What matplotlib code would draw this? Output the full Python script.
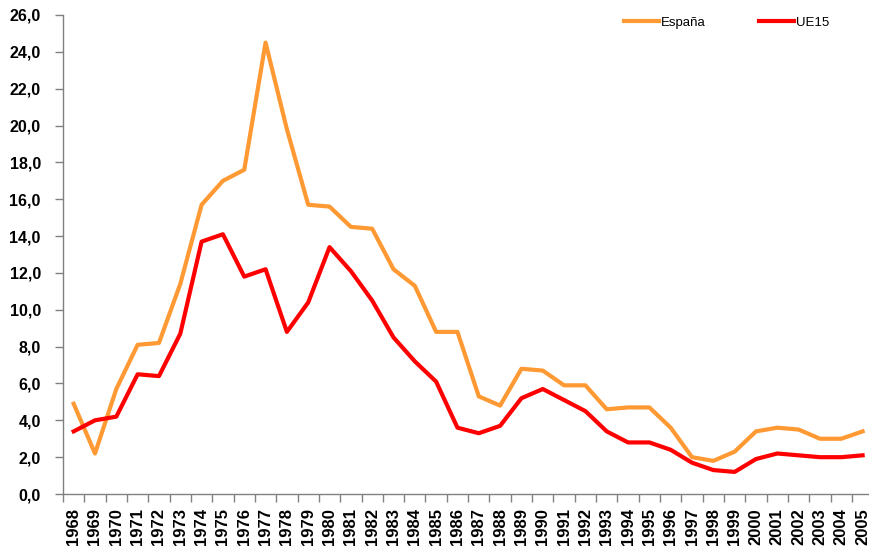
"""
Inflation series: España vs UE15, 1968-2005
"""

import matplotlib.pyplot as plt
import numpy as np
from matplotlib.ticker import FuncFormatter, FixedLocator

years = list(range(1968, 2006))
espana = [4.9, 2.2, 5.7, 8.1, 8.2, 11.4, 15.7, 17.0, 17.6, 24.5,
          19.8, 15.7, 15.6, 14.5, 14.4, 12.2, 11.3, 8.8, 8.8, 5.3,
          4.8, 6.8, 6.7, 5.9, 5.9, 4.6, 4.7, 4.7, 3.6, 2.0,
          1.8, 2.3, 3.4, 3.6, 3.5, 3.0, 3.0, 3.4]
ue15 = [3.4, 4.0, 4.2, 6.5, 6.4, 8.7, 13.7, 14.1, 11.8, 12.2,
        8.8, 10.4, 13.4, 12.1, 10.5, 8.5, 7.2, 6.1, 3.6, 3.3,
        3.7, 5.2, 5.7, 5.1, 4.5, 3.4, 2.8, 2.8, 2.4, 1.7,
        1.3, 1.2, 1.9, 2.2, 2.1, 2.0, 2.0, 2.1]

plt.rcParams['font.family'] = ['Liberation Sans', 'DejaVu Sans']

fig = plt.figure(figsize=(8.69, 5.51), dpi=100)
ax = fig.add_axes([0.0725, 0.1034, 0.9275, 0.8694])

x = np.arange(len(years))
ax.plot(x, espana, color='#FF9933', lw=3, label='España')
ax.plot(x, ue15, color='#FF0000', lw=3, label='UE15')

ax.set_ylim(0, 26)
ax.set_xlim(-0.5, 37.3)
ax.set_yticks(np.arange(0, 27, 2))
ax.yaxis.set_major_formatter(FuncFormatter(lambda v, p: f'{v:.1f}'.replace('.', ',')))

ax.set_xticks(x)
ax.set_xticklabels([str(y) for y in years], rotation=90)
ax.xaxis.set_minor_locator(FixedLocator(np.arange(-0.5, 38, 1)))
ax.tick_params(axis='x', which='major', length=0, pad=10)
ax.tick_params(axis='x', which='minor', length=6, width=1, color='#808080', direction='out')
ax.tick_params(axis='y', length=6, width=1, color='#808080', direction='out', pad=10)

for lab in ax.get_xticklabels():
    lab.set_fontweight('bold')
    lab.set_fontsize(12)
for lab in ax.get_yticklabels():
    lab.set_fontweight('bold')
    lab.set_fontsize(11.5)

for s in ['top', 'right']:
    ax.spines[s].set_visible(False)
for s in ['left', 'bottom']:
    ax.spines[s].set_color('#808080')
    ax.spines[s].set_linewidth(1)

ax.legend(loc='center', bbox_to_anchor=(0.836, 0.959), bbox_transform=fig.transFigure,
          ncol=2, frameon=False, fontsize=9.5, handlelength=2.65, columnspacing=4.0,
          handletextpad=0.15)

fig.savefig('out.png', dpi=100)
